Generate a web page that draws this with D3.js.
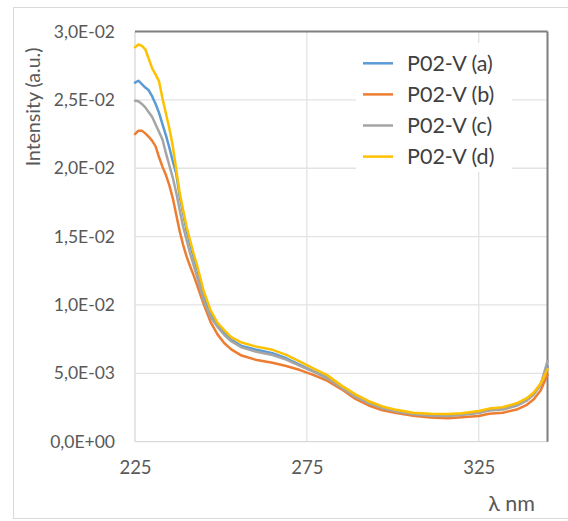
<!DOCTYPE html>
<html><head><meta charset="utf-8">
<script src="https://cdn.jsdelivr.net/npm/d3@7/dist/d3.min.js"></script>
<style>html,body{margin:0;padding:0;background:#fff;}svg{display:block;}</style>
</head><body>
<script>
// Wavelength (nm)
const wavelength = [225,226,227,228,229,230,231,232,233,234,235,236,237,238,239,240,241,242,243,245,247,249,251,253,256,260,265,269,273,277,281,285,289,293,297,301,306,311,316,320,325,328,332,336,339,341,343,345];
// Intensities, in units of 1E-03 a.u.
const seriesA = [26.26,26.4,26.15,25.9,25.7,25.25,24.7,24.05,23.2,22.4,21.5,20.5,19.6,17.95,16.7,15.45,14.5,13.55,12.7,10.75,9.35,8.5,7.95,7.45,7.0,6.75,6.47,6.1,5.61,5.15,4.68,4.0,3.36,2.86,2.5,2.26,2.06,1.97,1.95,2.01,2.18,2.35,2.45,2.72,3.1,3.52,4.2,5.5];
const seriesB = [22.5,22.75,22.75,22.55,22.3,22.0,21.6,20.8,20.1,19.5,18.75,17.8,16.6,15.4,14.4,13.55,12.85,12.2,11.5,10.05,8.75,7.85,7.2,6.75,6.3,6.0,5.78,5.54,5.24,4.87,4.45,3.85,3.15,2.65,2.3,2.1,1.9,1.77,1.72,1.78,1.88,2.05,2.12,2.35,2.7,3.1,3.75,4.9];
const seriesC = [24.94,24.9,24.7,24.45,24.1,23.75,23.2,22.65,22.1,21.1,20.2,19.3,18.2,16.95,15.72,14.75,13.8,12.95,12.1,10.3,9.1,8.4,7.8,7.35,6.9,6.6,6.34,6.0,5.54,5.1,4.62,3.95,3.3,2.8,2.44,2.2,2.0,1.9,1.88,1.95,2.1,2.28,2.35,2.62,3.0,3.45,4.15,5.9];
const seriesD = [28.85,29.05,28.95,28.7,28.0,27.3,26.85,26.35,25.1,24.0,22.9,21.6,19.9,18.2,16.95,15.72,14.75,13.8,12.95,11.0,9.6,8.7,8.15,7.65,7.25,6.97,6.72,6.35,5.85,5.35,4.85,4.12,3.48,2.96,2.58,2.33,2.12,2.04,2.03,2.08,2.25,2.42,2.52,2.81,3.18,3.6,4.25,5.3];
const seriesNames = ["P02-V (a)","P02-V (b)","P02-V (c)","P02-V (d)"];
const seriesColors = ["#5B9BD5","#ED7D31","#A5A5A5","#FFC000"];
const yTicks = [0,0.005,0.01,0.015,0.02,0.025,0.03];
const xTicks = [225,275,325];
const xTitle = "λ nm";
const yTitle = "Intensity (a.u.)";

(function(){
const W = 568, H = 521;
const svg = d3.select("body").append("svg").attr("width", W).attr("height", H);
const font = "Lato, 'Open Sans', sans-serif";
const txt = "#595959";

svg.append("rect").attr("x",13.5).attr("y",7.5).attr("width",W).attr("height",511)
  .attr("fill","#fff").attr("stroke","#d9d9d9").attr("stroke-width",1);

const pL = 135, pR = 547.5, pT = 31.5, pB = 441.7;
const x = d3.scaleLinear().domain([225,345]).range([pL, pR]);
const y = d3.scaleLinear().domain([0,0.03]).range([pB, pT]);

function fmt(v){
  if (v === 0) return "0,0E+00";
  const s = v.toExponential(1);
  const [m, e] = s.split("e");
  const en = parseInt(e,10);
  const sign = en < 0 ? "-" : "+";
  const ea = String(Math.abs(en)).padStart(2,"0");
  return m.replace(".",",") + "E" + sign + ea;
}

const grid = svg.append("g");
grid.selectAll(".hg").data(yTicks.filter(t=>t>0 && t<0.03)).join("line")
  .attr("x1",pL).attr("x2",pR).attr("y1",d=>y(d)).attr("y2",d=>y(d))
  .attr("stroke","#e3e3e3").attr("stroke-width",1.3);
grid.selectAll(".vg").data(xTicks.filter(t=>t>225)).join("line")
  .attr("x1",d=>x(d)).attr("x2",d=>x(d)).attr("y1",pT).attr("y2",pB)
  .attr("stroke","#e3e3e3").attr("stroke-width",1.3);

svg.append("line").attr("x1",pL).attr("x2",pL).attr("y1",pT).attr("y2",pB).attr("stroke","#d9d9d9").attr("stroke-width",1.3);
svg.append("line").attr("x1",pL).attr("x2",pR).attr("y1",pB).attr("y2",pB).attr("stroke","#d9d9d9").attr("stroke-width",1.3);
svg.append("line").attr("x1",pL).attr("x2",pR).attr("y1",pT).attr("y2",pT).attr("stroke","#7f7f7f").attr("stroke-width",2);
svg.append("line").attr("x1",pR).attr("x2",pR).attr("y1",pT).attr("y2",pB).attr("stroke","#7f7f7f").attr("stroke-width",2);

const yAxis = d3.axisLeft(y).tickValues(yTicks).tickFormat(fmt).tickSize(0).tickPadding(20);
const yg = svg.append("g").attr("transform",`translate(${pL},0)`).call(yAxis);
yg.select(".domain").remove();
yg.selectAll("text").attr("fill",txt).style("font-family",font).style("font-size","17.5px");

const xAxis = d3.axisBottom(x).tickValues(xTicks).tickFormat(d3.format("d")).tickSize(0).tickPadding(19);
const xg = svg.append("g").attr("transform",`translate(0,${pB})`).call(xAxis);
xg.select(".domain").remove();
xg.selectAll("text").attr("fill",txt).style("font-family",font).style("font-size","18.5px");

const all = [seriesA, seriesB, seriesC, seriesD];
const line = d3.line().x(d=>x(d[0])).y(d=>y(d[1]*1e-3)).curve(d3.curveLinear);
all.forEach((s,i)=>{
  svg.append("path").datum(wavelength.map((w,j)=>[w,s[j]]))
    .attr("d",line).attr("fill","none").attr("stroke",seriesColors[i])
    .attr("stroke-width",2.5).attr("stroke-linejoin","round").attr("stroke-linecap","round");
});

const lg = svg.append("g");
lg.append("rect").attr("x",356).attr("y",43).attr("width",156).attr("height",129).attr("fill","#fff");
seriesNames.forEach((n,i)=>{
  const yy = 63.3 + i*31.1;
  lg.append("line").attr("x1",363).attr("x2",393).attr("y1",yy).attr("y2",yy)
    .attr("stroke",seriesColors[i]).attr("stroke-width",2.5);
  lg.append("text").attr("x",407).attr("y",yy).attr("dy","0.35em").text(n)
    .attr("fill","#404040").style("font-family",font).style("font-size","21.5px");
});

svg.append("text").attr("transform","translate(40,107) rotate(-90)").attr("text-anchor","middle")
  .text(yTitle).attr("fill",txt).style("font-family",font).style("font-size","19.5px");
svg.append("text").attr("x",535).attr("y",511).attr("text-anchor","end")
  .text(xTitle).attr("fill",txt).style("font-family",font).style("font-size","21.5px");
})();
</script>
</body></html>
